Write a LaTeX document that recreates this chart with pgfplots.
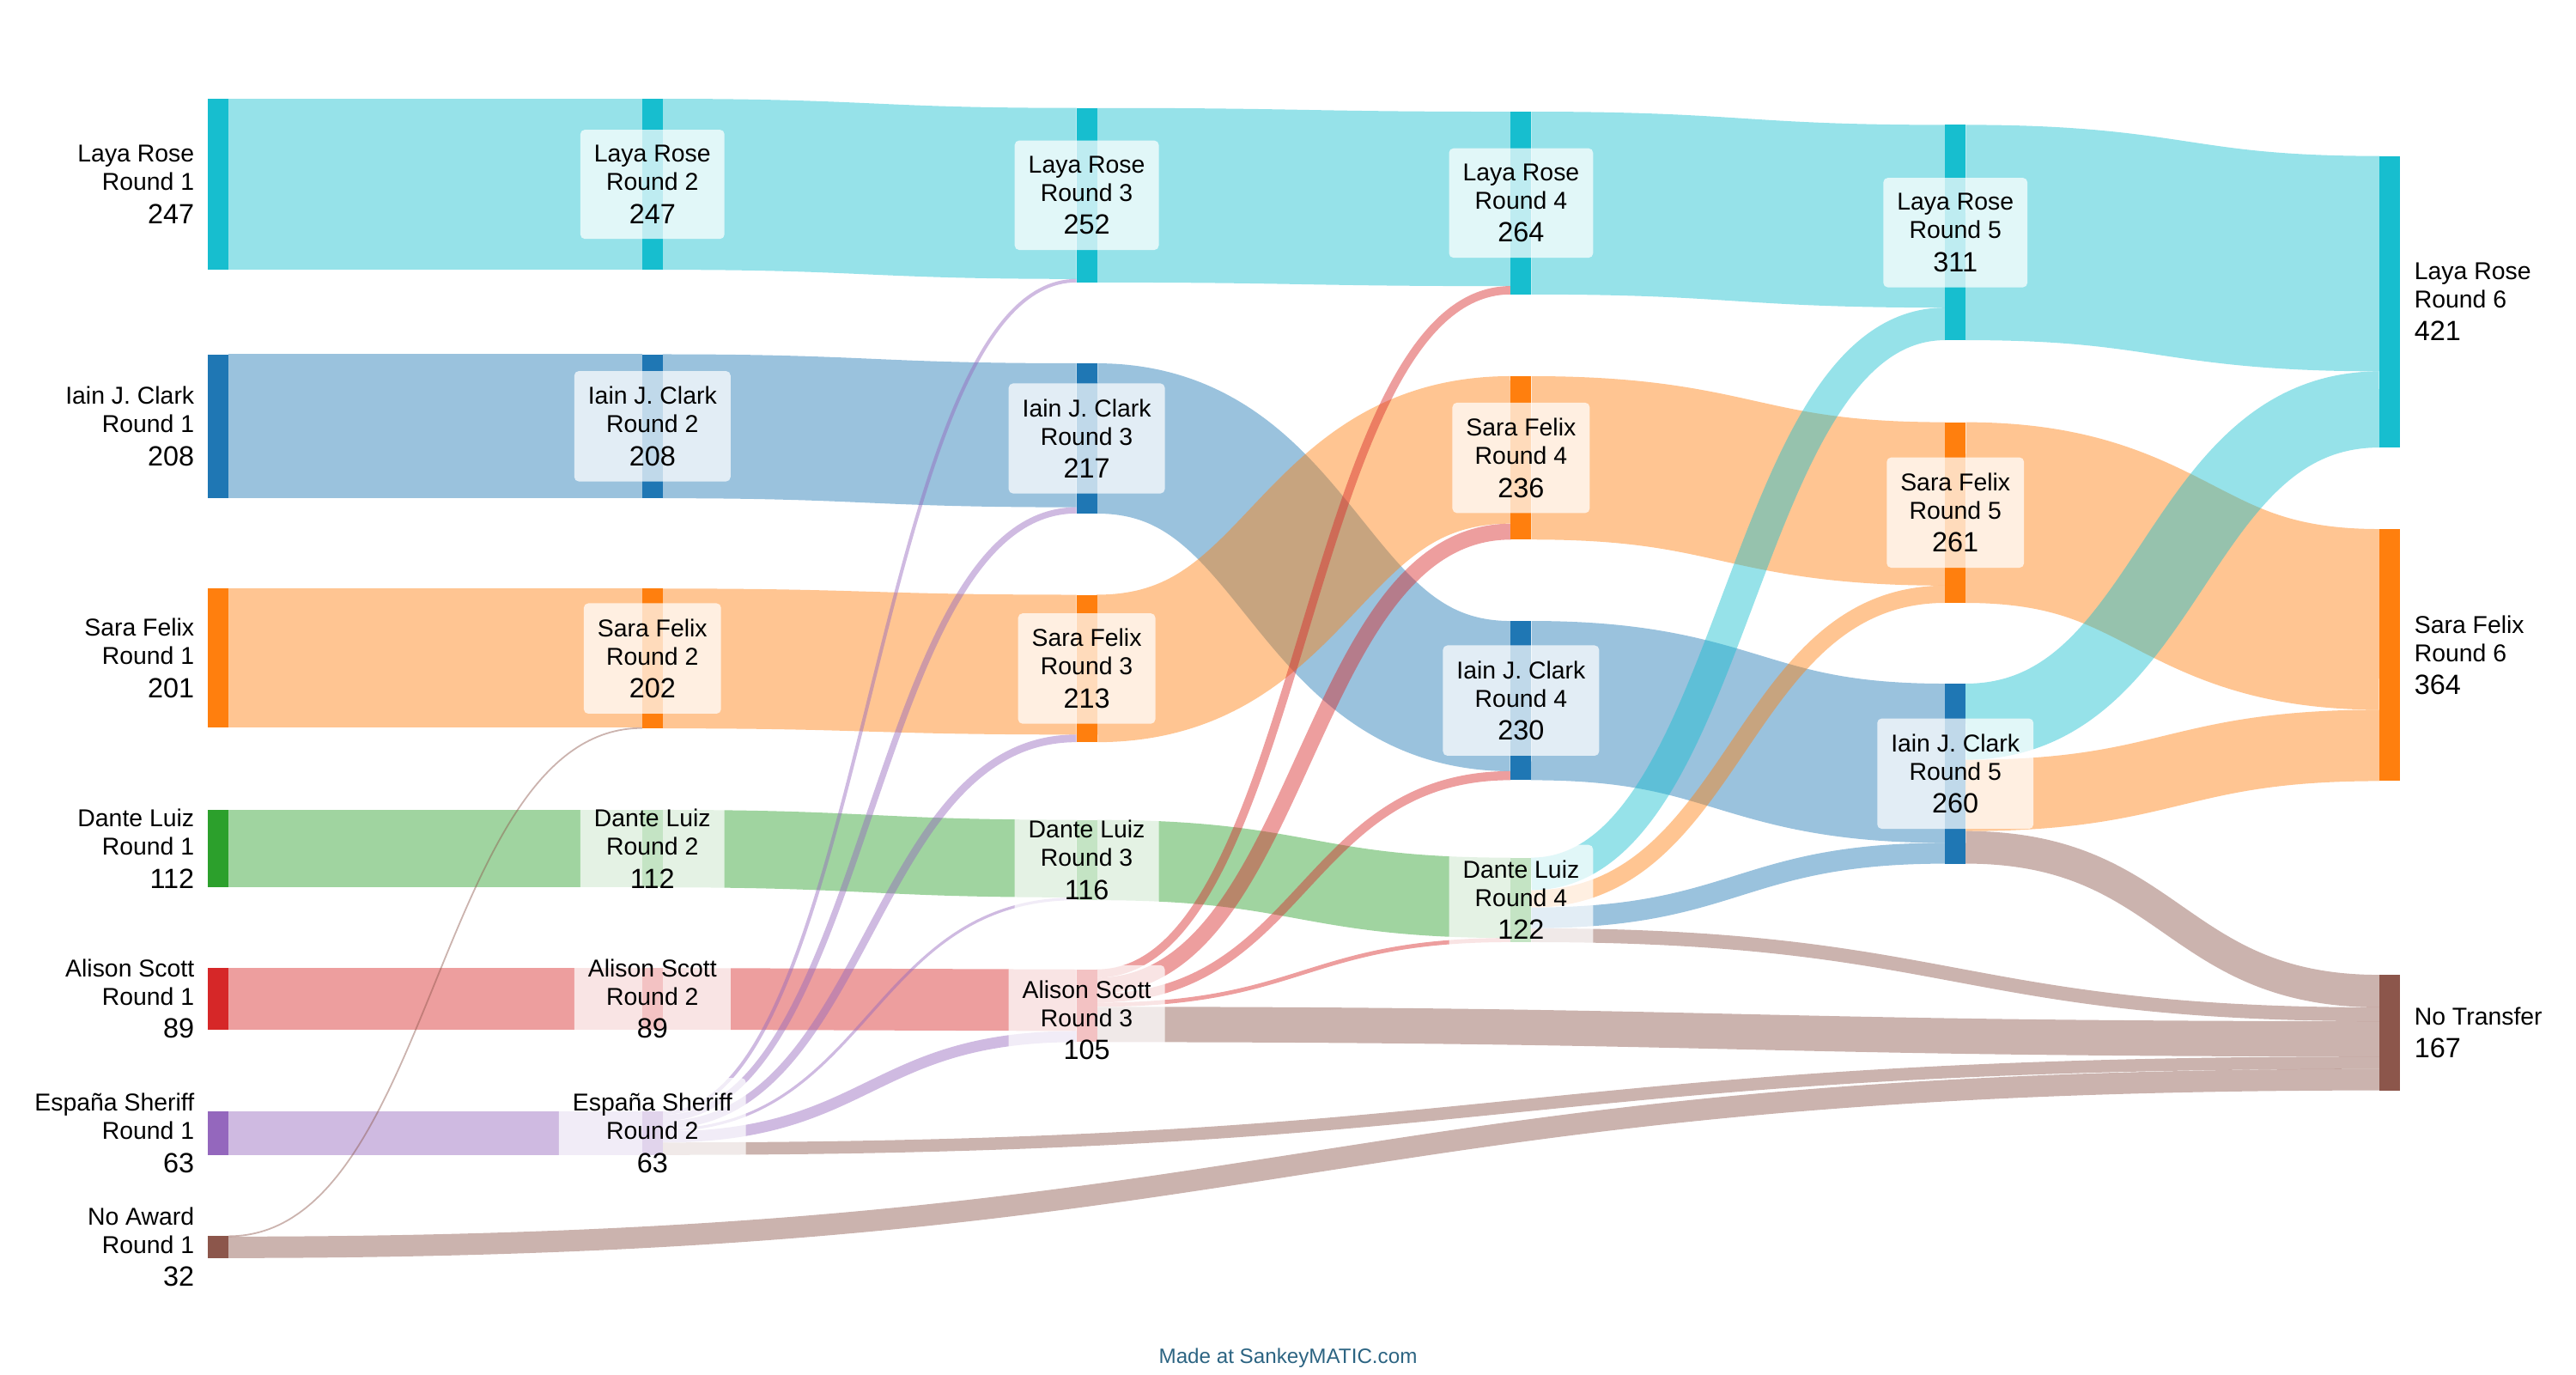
\documentclass[border=0pt]{standalone}
\usepackage{pgfplots}
\pgfplotsset{compat=1.18}
\usepackage{fontspec}
\setmainfont{Liberation Sans}

\definecolor{skLaya}{HTML}{17BECF}
\definecolor{skIain}{HTML}{1F77B4}
\definecolor{skSara}{HTML}{FF7F0E}
\definecolor{skDante}{HTML}{2CA02C}
\definecolor{skAlison}{HTML}{D62728}
\definecolor{skEspana}{HTML}{9467BD}
\definecolor{skNone}{HTML}{8C564B}
\definecolor{skFoot}{RGB}{44,100,130}

% plot handler: two points joined by a sankey link (horizontal tangents at both ends)
\makeatletter
\newif\ifsk@first
\def\sk@point#1{%
  \pgf@process{#1}%
  \ifsk@first
    \global\sk@firstfalse
    \xdef\sk@px{\the\pgf@x}\xdef\sk@py{\the\pgf@y}%
    \pgfpathmoveto{\pgfqpoint{\sk@px}{\sk@py}}%
  \else
    \edef\sk@qx{\the\pgf@x}\edef\sk@qy{\the\pgf@y}%
    \pgf@xa=\sk@px\relax
    \advance\pgf@xa by \sk@qx\relax
    \pgf@xa=0.5\pgf@xa
    \edef\sk@mx{\the\pgf@xa}%
    \pgfpathcurveto{\pgfqpoint{\sk@mx}{\sk@py}}{\pgfqpoint{\sk@mx}{\sk@qy}}{\pgfqpoint{\sk@qx}{\sk@qy}}%
    \xdef\sk@px{\sk@qx}\xdef\sk@py{\sk@qy}%
  \fi}
\pgfdeclareplothandler{\pgfplothandlersankey}{}{%
  start=\global\sk@firsttrue,
  point macro=\sk@point,
  jump=\global\sk@firsttrue,
}
\tikzset{sankey curve/.code={\let\tikz@plot@handler=\pgfplothandlersankey}}
\makeatother

\newcommand{\namefont}{\fontsize{7.1}{8.3}\selectfont}
\newcommand{\numfont}{\fontsize{8.1}{9.6}\selectfont}

% 1 px of the 3000x1600 picture = 0.25pt; 1 vote = 0.806 px
% \flow{colour}{votes}{x0}{y0}{x1}{y1}  (y = centre of the band)
\newcommand{\flow}[6]{\addplot[draw=#1, draw opacity=0.45, line width={max(#2*0.2015,0.45)}, sankey curve, forget plot] coordinates {(#3,#4) (#5,#6)};}
% \sknode{colour}{xleft}{xright}{top}{bottom}
\newcommand{\sknode}[5]{\addplot[fill=#1, draw=none, forget plot] coordinates {(#2,#4) (#3,#4) (#3,#5) (#2,#5)};}
\newcommand{\midlab}[5]{\node[midlab] at (axis cs:#1,#2) {#3\\#4\\[1.3pt]{\numfont #5}};}
\newcommand{\leftlab}[5]{\node[sidelab, anchor=east, align=right] at (axis cs:#1,#2) {#3\\#4\\[1.3pt]{\numfont #5}};}
\newcommand{\rightlab}[5]{\node[sidelab, anchor=west, align=left] at (axis cs:#1,#2) {#3\\#4\\[1.3pt]{\numfont #5}};}

\begin{document}
\begin{tikzpicture}[
    midlab/.style={fill=white, fill opacity=0.72, text opacity=1, rounded corners=1.3pt,
                   align=center, inner xsep=4pt, inner ysep=4.5pt, font=\namefont},
    sidelab/.style={inner sep=0pt, font=\namefont}
  ]
  \useasboundingbox (0,0) rectangle (750pt,400pt);
  \begin{axis}[
      width=750pt, height=400pt, scale only axis,
      xmin=0, xmax=3000, ymin=0, ymax=1600, y dir=reverse,
      hide axis, clip=false
    ]

    % Round 1 -> Round 2
    \flow{skLaya}{247}{266}{214.55}{747.8}{214.55}
    \flow{skIain}{208}{266}{496.3}{747.8}{496.3}
    \flow{skSara}{201}{266}{766.3}{747.8}{766.3}
    \flow{skDante}{112}{266}{988.1}{747.8}{988.1}
    \flow{skAlison}{89}{266}{1162.9}{747.8}{1162.9}
    \flow{skEspana}{63}{266}{1319.4}{747.8}{1319.4}
    \flow{skNone}{1}{266}{1439.4}{747.8}{847.7}
    \flow{skNone}{31}{266}{1452.3}{2771}{1257.1}

    % Round 2 -> Round 3
    \flow{skLaya}{247}{771.8}{214.55}{1253.6}{225.25}
    \flow{skIain}{208}{771.8}{496.3}{1253.6}{506.8}
    \flow{skSara}{202}{771.8}{766.7}{1253.6}{773.9}
    \flow{skDante}{112}{771.8}{988.1}{1253.6}{999.7}
    \flow{skAlison}{89}{771.8}{1162.9}{1253.6}{1164.6}
    \flow{skEspana}{5}{771.8}{1296.0}{1253.6}{326.8}
    \flow{skEspana}{9}{771.8}{1301.7}{1253.6}{594.2}
    \flow{skEspana}{11}{771.8}{1309.7}{1253.6}{859.7}
    \flow{skEspana}{4}{771.8}{1315.8}{1253.6}{1046.5}
    \flow{skEspana}{16}{771.8}{1323.8}{1253.6}{1206.9}
    \flow{skNone}{18}{771.8}{1337.5}{2771}{1237.4}

    % Round 3 -> Round 4
    \flow{skLaya}{252}{1277.6}{227.3}{1759.4}{231.6}
    \flow{skIain}{217}{1277.6}{510.5}{1759.4}{810.5}
    \flow{skSara}{213}{1277.6}{778.3}{1759.4}{523.8}
    \flow{skDante}{116}{1277.6}{1001.4}{1759.4}{1045.4}
    \flow{skAlison}{12}{1277.6}{1133.5}{1759.4}{337.9}
    \flow{skAlison}{23}{1277.6}{1147.6}{1759.4}{619.0}
    \flow{skAlison}{13}{1277.6}{1162.1}{1759.4}{903.1}
    \flow{skAlison}{6}{1277.6}{1169.8}{1759.4}{1094.5}
    \flow{skNone}{51}{1277.6}{1192.8}{2771}{1209.6}

    % Round 4 -> Round 5
    \flow{skLaya}{264}{1783.4}{236.4}{2265.2}{251.8}
    \flow{skSara}{236}{1783.4}{533.1}{2265.2}{586.7}
    \flow{skIain}{230}{1783.4}{815.7}{2265.2}{888.7}
    \flow{skLaya}{47}{1783.4}{1017.5}{2265.2}{377.1}
    \flow{skSara}{25}{1783.4}{1046.6}{2265.2}{691.9}
    \flow{skIain}{30}{1783.4}{1068.7}{2265.2}{993.5}
    \flow{skNone}{20}{1783.4}{1088.9}{2771}{1181.0}

    % Round 5 -> Round 6
    \flow{skLaya}{311}{2289.2}{270.7}{2771}{307.0}
    \flow{skSara}{261}{2289.2}{596.8}{2771}{721.2}
    \flow{skLaya}{110}{2289.2}{840.3}{2771}{476.7}
    \flow{skSara}{103}{2289.2}{926.2}{2771}{867.9}
    \flow{skNone}{47}{2289.2}{986.6}{2771}{1154.0}

    % nodes
    \sknode{skLaya}{242}{266}{115}{314.1}
    \sknode{skIain}{242}{266}{412.5}{580.1}
    \sknode{skSara}{242}{266}{685.3}{847.3}
    \sknode{skDante}{242}{266}{943}{1033.3}
    \sknode{skAlison}{242}{266}{1127}{1198.7}
    \sknode{skEspana}{242}{266}{1294}{1344.8}
    \sknode{skNone}{242}{266}{1439}{1464.8}

    \sknode{skLaya}{747.8}{771.8}{115}{314.1}
    \sknode{skIain}{747.8}{771.8}{412.5}{580.1}
    \sknode{skSara}{747.8}{771.8}{685.3}{848.1}
    \sknode{skDante}{747.8}{771.8}{943}{1033.3}
    \sknode{skAlison}{747.8}{771.8}{1127}{1198.7}
    \sknode{skEspana}{747.8}{771.8}{1294}{1344.8}

    \sknode{skLaya}{1253.6}{1277.6}{125.7}{328.8}
    \sknode{skIain}{1253.6}{1277.6}{423}{597.9}
    \sknode{skSara}{1253.6}{1277.6}{692.5}{864.2}
    \sknode{skDante}{1253.6}{1277.6}{954.6}{1048.1}
    \sknode{skAlison}{1253.6}{1277.6}{1128.7}{1213.3}

    \sknode{skLaya}{1759.4}{1783.4}{130}{342.8}
    \sknode{skSara}{1759.4}{1783.4}{438}{628.2}
    \sknode{skIain}{1759.4}{1783.4}{723}{908.4}
    \sknode{skDante}{1759.4}{1783.4}{998.6}{1096.9}

    \sknode{skLaya}{2265.2}{2289.2}{145.4}{396.1}
    \sknode{skSara}{2265.2}{2289.2}{491.6}{702.0}
    \sknode{skIain}{2265.2}{2289.2}{796}{1005.6}

    \sknode{skLaya}{2771}{2795}{181.7}{521.0}
    \sknode{skSara}{2771}{2795}{616}{909.4}
    \sknode{skNone}{2771}{2795}{1135}{1269.6}

    % labels
    \leftlab{227}{214.6}{Laya Rose}{Round 1}{247}
    \leftlab{227}{496.3}{Iain J. Clark}{Round 1}{208}
    \leftlab{227}{766.3}{Sara Felix}{Round 1}{201}
    \leftlab{227}{988.2}{Dante Luiz}{Round 1}{112}
    \leftlab{227}{1162.9}{Alison Scott}{Round 1}{89}
    \leftlab{227}{1319.4}{España Sheriff}{Round 1}{63}
    \leftlab{227}{1451.9}{No Award}{Round 1}{32}

    \midlab{759.8}{214.6}{Laya Rose}{Round 2}{247}
    \midlab{759.8}{496.3}{Iain J. Clark}{Round 2}{208}
    \midlab{759.8}{766.7}{Sara Felix}{Round 2}{202}
    \midlab{759.8}{988.2}{Dante Luiz}{Round 2}{112}
    \midlab{759.8}{1162.9}{Alison Scott}{Round 2}{89}
    \midlab{759.8}{1319.4}{España Sheriff}{Round 2}{63}

    \midlab{1265.6}{227.3}{Laya Rose}{Round 3}{252}
    \midlab{1265.6}{510.5}{Iain J. Clark}{Round 3}{217}
    \midlab{1265.6}{778.4}{Sara Felix}{Round 3}{213}
    \midlab{1265.6}{1001.4}{Dante Luiz}{Round 3}{116}
    \midlab{1265.6}{1188.0}{Alison Scott}{Round 3}{105}

    \midlab{1771.4}{236.4}{Laya Rose}{Round 4}{264}
    \midlab{1771.4}{533.1}{Sara Felix}{Round 4}{236}
    \midlab{1771.4}{815.7}{Iain J. Clark}{Round 4}{230}
    \midlab{1771.4}{1047.8}{Dante Luiz}{Round 4}{122}

    \midlab{2277.2}{270.8}{Laya Rose}{Round 5}{311}
    \midlab{2277.2}{596.8}{Sara Felix}{Round 5}{261}
    \midlab{2277.2}{900.8}{Iain J. Clark}{Round 5}{260}

    \rightlab{2811}{351.4}{Laya Rose}{Round 6}{421}
    \rightlab{2811}{762.7}{Sara Felix}{Round 6}{364}
    \node[sidelab, anchor=west, align=left] at (axis cs:2811,1202.3) {No Transfer\\[1.3pt]{\numfont 167}};

    \node[anchor=base, font=\fontsize{6.05}{7}\selectfont, text=skFoot] at (axis cs:1500,1587) {Made at SankeyMATIC.com};
  \end{axis}
\end{tikzpicture}
\end{document}
